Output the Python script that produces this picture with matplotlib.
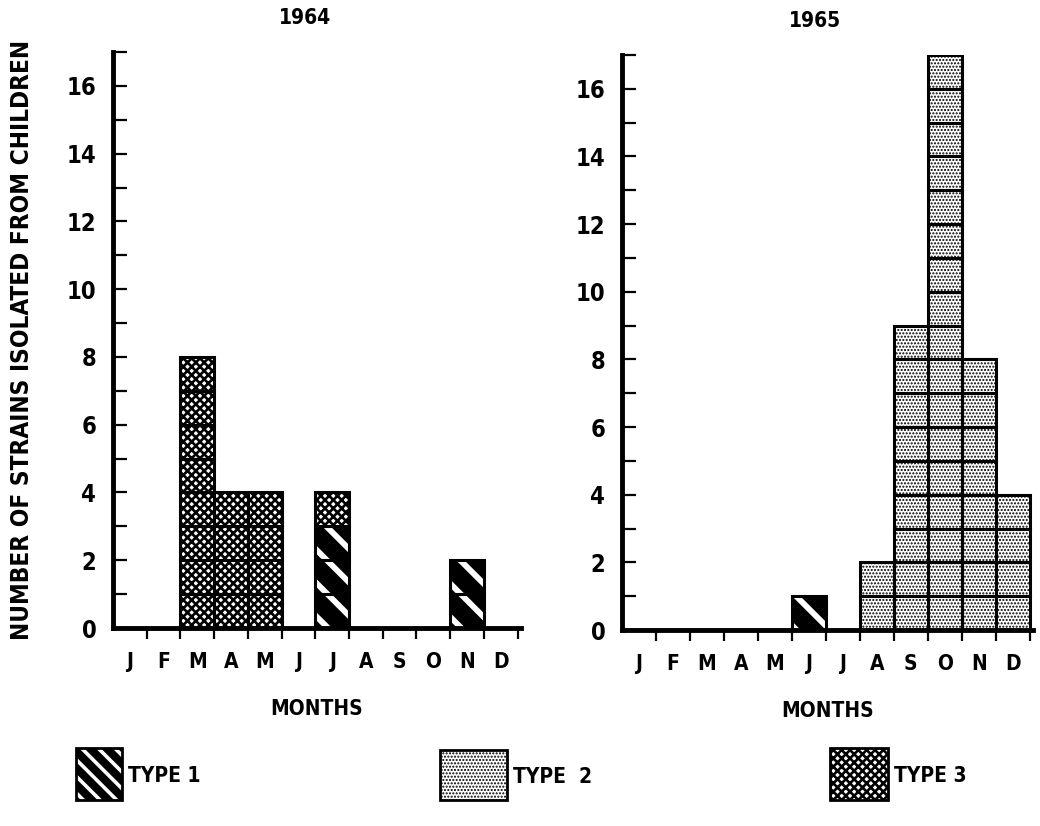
import matplotlib
matplotlib.use("Agg")
import matplotlib.pyplot as plt
from matplotlib.patches import Rectangle
from matplotlib import font_manager as fm
import numpy as np

# look for a condensed bold face among installed fonts
cond = None
for f in fm.fontManager.ttflist:
    n = f.name.lower()
    if ('condensed' in n or 'narrow' in n or str(f.stretch) in ('condensed', 'semi-condensed', '300', '400')) \
            and f.weight in ('bold', 700, 'heavy'):
        cond = f.name
        break
if cond is None:
    for f in fm.fontManager.ttflist:
        if str(f.stretch) not in ('normal', '500'):
            cond = f.name
            break
FAM = [cond, 'DejaVu Sans'] if cond else ['DejaVu Sans']
plt.rcParams['font.family'] = FAM
plt.rcParams['font.weight'] = 'bold'
STRETCH = 'condensed' if cond else 'normal'
plt.rcParams['font.stretch'] = STRETCH

months = ['J', 'F', 'M', 'A', 'M', 'J', 'J', 'A', 'S', 'O', 'N', 'D']
years = ['1964', '1965']
type1_1964 = [0, 0, 0, 0, 0, 0, 3, 0, 0, 0, 2, 0]
type2_1964 = [0, 0, 0, 0, 0, 0, 0, 0, 0, 0, 0, 0]
type3_1964 = [0, 0, 8, 4, 4, 0, 1, 0, 0, 0, 0, 0]
type1_1965 = [0, 0, 0, 0, 0, 1, 0, 0, 0, 0, 0, 0]
type2_1965 = [0, 0, 0, 0, 0, 0, 0, 2, 9, 17, 8, 4]
type3_1965 = [0, 0, 0, 0, 0, 0, 0, 0, 0, 0, 0, 0]
ylabel = 'NUMBER OF STRAINS ISOLATED FROM CHILDREN'
xlabel = 'MONTHS'
legend_labels = ['TYPE 1', 'TYPE  2', 'TYPE 3']

W, H = 1040, 826
fig = plt.figure(figsize=(W / 100, H / 100), dpi=100)

HATCH = {1: ('\\', 4.2, 'black', 'white'),
         2: ('.....', 1.0, 'white', 'black'),
         3: ('xxxx', 1.9, 'white', 'black')}
LEG_HATCH = {1: ('\\\\', 2.6, 'black', 'white'),
             2: HATCH[2],
             3: HATCH[3]}


def px_axes(x0, y0, x1, y1):
    return fig.add_axes([x0 / W, 1 - y1 / H, (x1 - x0) / W, (y1 - y0) / H])


def set_hlw(p, lw):
    if hasattr(p, 'set_hatch_linewidth'):
        p.set_hatch_linewidth(lw)


def draw_cell(ax, x, bottom, kind):
    h, lw, fc, hc = HATCH[kind]
    with plt.rc_context({'hatch.linewidth': lw}):
        bars = ax.bar([x], [1], bottom=[bottom], width=1, align='edge',
                      color=fc, edgecolor=hc, hatch=h, linewidth=0)
    for b in bars:
        set_hlw(b, lw)
    ax.bar([x], [1], bottom=[bottom], width=1, align='edge', fill=False,
           edgecolor='black', linewidth=2.2, zorder=3)


def panel(ax, t1, t2, t3, title):
    for i in range(12):
        b = 0
        for kind, vals in ((1, t1), (2, t2), (3, t3)):
            for k in range(vals[i]):
                draw_cell(ax, i, b, kind)
                b += 1
    ax.set_xlim(0, 12.1)
    ax.set_ylim(0, 17)
    for s in ('top', 'right'):
        ax.spines[s].set_visible(False)
    for s in ('left', 'bottom'):
        ax.spines[s].set_linewidth(3.5)
        ax.spines[s].set_zorder(5)
    ax.set_yticks(np.arange(0, 17, 2))
    ax.set_yticks(np.arange(1, 18, 2), minor=True)
    ax.tick_params(axis='y', which='both', direction='in', length=10, width=1.6,
                   labelsize=17, pad=12)
    ax.set_xticks(np.arange(1, 13))
    ax.set_xticklabels([])
    ax.set_xticks(np.arange(12) + 0.5, minor=True)
    ax.set_xticklabels(months, minor=True, fontsize=15, fontweight='bold')
    ax.tick_params(axis='x', which='major', direction='out', length=8, width=1.6)
    ax.tick_params(axis='x', which='minor', length=0, pad=17)
    for lab in ax.get_yticklabels():
        lab.set_fontweight('bold')
    ax.set_xlabel(xlabel, fontsize=15, fontweight='bold', labelpad=20)
    ax.text(0.47, 1 + 34 / 576, title, transform=ax.transAxes, ha='center',
            va='center', fontsize=15, fontweight='bold')
    ax.set_facecolor('none')


ax1 = px_axes(113, 52, 521, 628)
ax2 = px_axes(622, 55, 1033, 630)
panel(ax1, type1_1964, type2_1964, type3_1964, years[0])
panel(ax2, type1_1965, type2_1965, type3_1965, years[1])

fig.text(22 / W, 1 - 340 / H, ylabel, rotation=90, ha='center', va='center',
         fontsize=17.5, fontweight='bold')

# legend
lax = fig.add_axes([0, 0, 1, 1])
lax.set_xlim(0, W)
lax.set_ylim(H, 0)
lax.axis('off')
boxes = [(76, 748, 46, 52, 1), (440, 750, 67, 50, 2), (830, 748, 58, 52, 3)]
for (x, y, w, h, kind), lab in zip(boxes, legend_labels):
    hp, lw, fc, hc = LEG_HATCH[kind]
    with plt.rc_context({'hatch.linewidth': lw}):
        r = Rectangle((x, y), w, h, facecolor=fc, edgecolor=hc, hatch=hp, linewidth=0)
    set_hlw(r, lw)
    lax.add_patch(r)
    lax.add_patch(Rectangle((x, y), w, h, fill=False, edgecolor='black', linewidth=2))
    lax.text(x + w + 6, y + h / 2 + 2, lab, ha='left', va='center', fontsize=15,
             fontweight='bold')

fig.savefig('out.png', dpi=100)
